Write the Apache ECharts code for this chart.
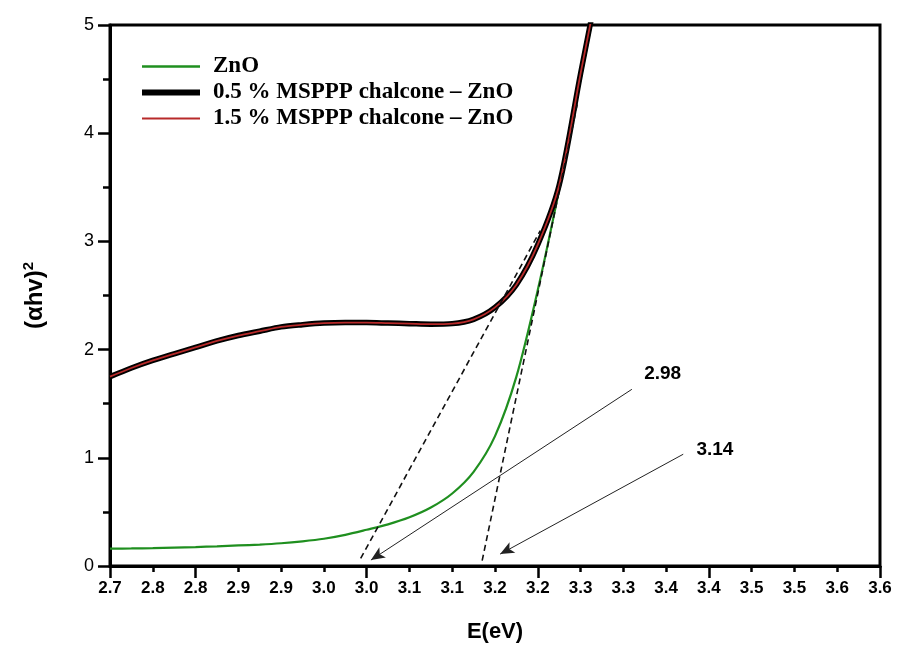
<!DOCTYPE html>
<html>
<head>
<meta charset="utf-8">
<script src="https://cdn.jsdelivr.net/npm/echarts@6/dist/echarts.min.js"></script>
<style>html,body{margin:0;padding:0;background:#fff;}#c{width:898px;height:648px;}</style>
</head>
<body>
<div id="c"></div>
<script>
// ---- data ----
const energy   = [2.700, 2.725, 2.750, 2.775, 2.800, 2.825, 2.850, 2.875, 2.900, 2.925, 2.950, 2.975, 3.000, 3.025, 3.050, 3.075, 3.100, 3.125, 3.150, 3.175, 3.200, 3.225, 3.250, 3.275];
const valueZnO = [0.160, 0.162, 0.165, 0.170, 0.175, 0.182, 0.190, 0.198, 0.210, 0.228, 0.252, 0.288, 0.335, 0.385, 0.450, 0.540, 0.670, 0.870, 1.200, 1.750, 2.550, 3.480, 4.500, 5.500];
const value05  = [1.75, 1.83, 1.90, 1.96, 2.02, 2.08, 2.13, 2.17, 2.21, 2.23, 2.245, 2.25, 2.25, 2.245, 2.24, 2.235, 2.24, 2.28, 2.39, 2.60, 2.97, 3.52, 4.55, 5.55];
const value15  = [1.75, 1.83, 1.90, 1.96, 2.02, 2.08, 2.13, 2.17, 2.21, 2.23, 2.245, 2.25, 2.25, 2.245, 2.24, 2.235, 2.24, 2.28, 2.39, 2.60, 2.97, 3.52, 4.55, 5.55];

// tangent (extrapolation) lines: [E, value] end points
const tangentChal = [[2.993, 0.07], [3.203, 3.10]];
const tangentZnO  = [[3.135, 0.05], [3.247, 4.30]];

// annotation arrows: start -> tip
const arrowStarts = [[3.310, 1.633], [3.370, 1.033]];
const arrowTips   = [[3.005, 0.055], [3.156, 0.11]];
const annotTexts  = ['2.98', '3.14'];
const annotPos    = [[3.346, 1.78], [3.407, 1.07]];

const seriesNames = ['ZnO', '0.5 % MSPPP chalcone – ZnO', '1.5 % MSPPP chalcone – ZnO'];
const majorXTicks = [2.7, 2.8, 3.0, 3.2, 3.4, 3.6];

const zip = (a, b) => a.map((v, i) => [v, b[i]]);

const chart = echarts.init(document.getElementById('c'));
const fmtX = v => (Math.round(v * 10 + 1e-6) / 10).toFixed(1);
const SANS = 'Liberation Sans, Arial, sans-serif';

chart.setOption({
  animation: false,
  backgroundColor: '#fff',
  grid: { left: 110, right: 18, top: 25, bottom: 81, show: true, borderColor: '#000', borderWidth: 3, containLabel: false },
  legend: {
    orient: 'vertical', left: 137, top: 50, itemWidth: 58, itemHeight: 22, itemGap: 3,
    symbolKeepAspect: true,
    textStyle: { fontFamily: 'Liberation Serif, Times New Roman, serif', fontWeight: 'bold', fontSize: 23, color: '#000', padding: [0, 0, 0, 8] },
    data: [
      { name: seriesNames[0], icon: 'path://M0,0H58V2.5H0Z' },
      { name: seriesNames[1], icon: 'path://M0,0H58V6H0Z' },
      { name: seriesNames[2], icon: 'path://M0,0H58V2H0Z' }
    ]
  },
  xAxis: [
    {
      type: 'value', min: 2.7, max: 3.6, interval: 0.05,
      name: 'E(eV)', nameLocation: 'middle', nameGap: 55,
      nameTextStyle: { fontFamily: SANS, fontWeight: 'bold', fontSize: 22, color: '#000' },
      axisLine: { show: true, lineStyle: { color: '#000', width: 3 } },
      axisTick: { show: true, length: 6, lineStyle: { color: '#000', width: 2.5 } },
      axisLabel: { formatter: fmtX, fontFamily: SANS, fontWeight: 'bold', fontSize: 17, color: '#000', margin: 14 },
      splitLine: { show: false }
    },
    {
      type: 'value', min: 2.7, max: 3.6, interval: 0.05, position: 'bottom',
      axisLine: { show: false },
      axisTick: { show: true, length: 12, customValues: majorXTicks, lineStyle: { color: '#000', width: 2.5 } },
      axisLabel: { show: false },
      splitLine: { show: false }
    }
  ],
  yAxis: {
    type: 'value', min: 0, max: 5, interval: 1,
    name: '(αhv){sup|2}', nameLocation: 'middle', nameGap: 61,
    nameTextStyle: {
      fontFamily: SANS, fontWeight: 'bold', fontSize: 24, color: '#000',
      rich: { sup: { fontFamily: SANS, fontWeight: 'bold', fontSize: 15, color: '#000', verticalAlign: 'top', padding: [0, 0, 13, 0] } }
    },
    axisLine: { show: true, lineStyle: { color: '#000', width: 3 } },
    axisTick: { show: true, length: 12, lineStyle: { color: '#000', width: 2.5 } },
    minorTick: { show: true, splitNumber: 2, length: 7, lineStyle: { color: '#000', width: 2.5 } },
    axisLabel: { fontFamily: SANS, fontSize: 18, color: '#000', margin: 16 },
    splitLine: { show: false }
  },
  series: [
    {
      name: seriesNames[0], type: 'line', data: zip(energy, valueZnO), smooth: 0.3, clip: true,
      showSymbol: false, symbol: 'none', lineStyle: { color: '#1f8f1f', width: 2.2 }, itemStyle: { color: '#1f8f1f' }, z: 2
    },
    {
      name: seriesNames[1], type: 'line', data: zip(energy, value05), smooth: 0.3, clip: true,
      showSymbol: false, symbol: 'none', lineStyle: { color: '#000', width: 5.5 }, itemStyle: { color: '#000' }, z: 3
    },
    {
      name: seriesNames[2], type: 'line', data: zip(energy, value15), smooth: 0.3, clip: true,
      showSymbol: false, symbol: 'none', lineStyle: { color: '#b82a2a', width: 1.8 }, itemStyle: { color: '#b82a2a' }, z: 4
    },
    {
      name: 'tangent1', type: 'line', data: tangentChal, showSymbol: false, symbol: 'none', silent: true,
      lineStyle: { color: '#111', width: 1.6, type: [6, 4] }, z: 5
    },
    {
      name: 'tangent2', type: 'line', data: tangentZnO, showSymbol: false, symbol: 'none', silent: true,
      lineStyle: { color: '#111', width: 1.6, type: [6, 4] }, z: 5,
      markLine: {
        silent: true, symbol: ['none', 'arrow'], symbolSize: [9, 14],
        lineStyle: { color: '#222', width: 1, type: 'solid' }, label: { show: false },
        data: arrowStarts.map((s, i) => [{ coord: s }, { coord: arrowTips[i] }])
      },
      markPoint: {
        silent: true, symbol: 'circle', symbolSize: 1, itemStyle: { color: 'rgba(0,0,0,0)' },
        label: { show: true, position: 'inside', fontFamily: SANS, fontWeight: 'bold', fontSize: 19, color: '#000' },
        data: annotPos.map((p, i) => ({ coord: p, value: annotTexts[i], label: { formatter: annotTexts[i], color: '#000' } }))
      }
    }
  ]
});
</script>
</body>
</html>
